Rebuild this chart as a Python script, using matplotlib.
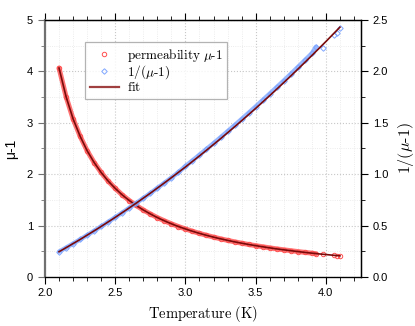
import matplotlib
matplotlib.use("Agg")
import matplotlib.pyplot as plt
from matplotlib.lines import Line2D
from matplotlib.ticker import MultipleLocator

plt.rcParams['mathtext.fontset'] = 'cm'
plt.rcParams['font.family'] = ['Liberation Sans', 'DejaVu Sans']

temp = [2.10, 2.15, 2.20, 2.25, 2.30, 2.35, 2.40, 2.45, 2.50, 2.55,
        2.60, 2.65, 2.70, 2.75, 2.80, 2.85, 2.90, 2.95, 3.00, 3.05,
        3.10, 3.15, 3.20, 3.25, 3.30, 3.35, 3.40, 3.45, 3.50, 3.55,
        3.60, 3.65, 3.70, 3.75, 3.80, 3.85, 3.90, 3.93, 3.98, 4.06,
        4.08, 4.10]
mu_minus_1 = [4.065, 3.509, 3.077, 2.740, 2.457, 2.227, 2.033, 1.866, 1.724, 1.597,
              1.488, 1.391, 1.304, 1.227, 1.156, 1.093, 1.035, 0.982, 0.935, 0.890,
              0.849, 0.811, 0.776, 0.743, 0.713, 0.684, 0.658, 0.633, 0.610, 0.588,
              0.567, 0.547, 0.529, 0.512, 0.495, 0.479, 0.464, 0.452, 0.446, 0.420,
              0.418, 0.412]
inv_mu = [0.246, 0.285, 0.325, 0.365, 0.407, 0.449, 0.492, 0.536, 0.580, 0.626,
          0.672, 0.719, 0.767, 0.815, 0.865, 0.915, 0.966, 1.018, 1.078, 1.133,
          1.188, 1.244, 1.301, 1.358, 1.417, 1.476, 1.536, 1.597, 1.658, 1.720,
          1.783, 1.846, 1.910, 1.975, 2.041, 2.108, 2.175, 2.240, 2.230, 2.350,
          2.370, 2.420]

# fit curves
fit_temp = [2.10, 2.15, 2.20, 2.25, 2.30, 2.35, 2.40, 2.45, 2.50, 2.55,
            2.60, 2.65, 2.70, 2.75, 2.80, 2.85, 2.90, 2.95, 3.00, 3.05,
            3.10, 3.15, 3.20, 3.25, 3.30, 3.35, 3.40, 3.45, 3.50, 3.55,
            3.60, 3.65, 3.70, 3.75, 3.80, 3.85, 3.90, 3.95, 4.00, 4.05,
            4.10]
fit_mu = [4.065, 3.509, 3.077, 2.740, 2.457, 2.227, 2.033, 1.866, 1.724, 1.597,
          1.488, 1.391, 1.304, 1.227, 1.156, 1.093, 1.035, 0.982, 0.935, 0.890,
          0.849, 0.811, 0.776, 0.743, 0.713, 0.684, 0.658, 0.633, 0.610, 0.588,
          0.567, 0.547, 0.529, 0.512, 0.495, 0.479, 0.464, 0.450, 0.437, 0.424,
          0.412]
fit_inv = [0.246, 0.285, 0.325, 0.365, 0.407, 0.449, 0.492, 0.536, 0.580, 0.626,
           0.672, 0.719, 0.767, 0.815, 0.865, 0.915, 0.966, 1.018, 1.070, 1.124,
           1.178, 1.233, 1.289, 1.345, 1.403, 1.461, 1.520, 1.580, 1.640, 1.702,
           1.764, 1.827, 1.891, 1.955, 2.021, 2.087, 2.154, 2.222, 2.290, 2.360,
           2.430]

red = '#ff5050'
blue = '#7fa6ff'
fitc = '#7a0a0a'

fig = plt.figure(figsize=(4.15, 3.26), dpi=100)
ax = fig.add_axes([0.1084, 0.1503, 0.7614, 0.7884])
ax2 = ax.twinx()

# data bands (dense markers) on the two axes
ax.plot(temp[:38], mu_minus_1[:38], color=red, lw=3.6, alpha=0.8, solid_capstyle='round')
ax.plot(temp, mu_minus_1, ls='none', marker='o', ms=3.2, mfc='none', mec=red, mew=0.7)
ax2.plot(temp[:38], inv_mu[:38], color=blue, lw=3.2, alpha=0.8, solid_capstyle='round')
ax2.plot(temp, inv_mu, ls='none', marker='D', ms=2.8, mfc='none', mec=blue, mew=0.7)

ax.plot(fit_temp, fit_mu, color=fitc, lw=1.2, zorder=5)
ax2.plot(fit_temp, fit_inv, color=fitc, lw=1.2, zorder=5)

ax.set_xlim(2.0, 4.25)
ax.set_ylim(0, 5)
ax2.set_ylim(0, 2.5)

ax.xaxis.set_major_locator(MultipleLocator(0.5))
ax.xaxis.set_minor_locator(MultipleLocator(0.1))
ax.yaxis.set_major_locator(MultipleLocator(1))
ax.yaxis.set_minor_locator(MultipleLocator(0.5))
ax2.yaxis.set_major_locator(MultipleLocator(0.5))
ax2.yaxis.set_minor_locator(MultipleLocator(0.25))
ax.set_xticks([2.0, 2.5, 3.0, 3.5, 4.0])
ax.set_xticklabels(['2.0', '2.5', '3.0', '3.5', '4.0'])
ax2.set_yticks([0, 0.5, 1.0, 1.5, 2.0, 2.5])
ax2.set_yticklabels(['0.0', '0.5', '1.0', '1.5', '2.0', '2.5'])

ax.grid(True, which='major', color='#c8c8c8', ls=':', lw=0.8)
ax.grid(True, which='minor', color='#e6e6e6', ls=':', lw=0.6)
ax.set_axisbelow(True)

ax.tick_params(axis='x', which='both', direction='out', top=True, labelsize=8, pad=3)
ax.tick_params(axis='x', which='major', length=5)
ax.tick_params(axis='x', which='minor', length=3)
ax.tick_params(axis='y', which='major', direction='out', length=5, labelsize=8, color='#707070')
ax.tick_params(axis='y', which='minor', direction='out', length=3, color='#707070')
ax2.tick_params(axis='y', which='major', direction='out', length=5, labelsize=8)
ax2.tick_params(axis='y', which='minor', direction='out', length=3)

ax.spines['left'].set_color('#707070')
ax.spines['left'].set_linewidth(1.6)
ax2.spines['left'].set_visible(False)
for s in ['bottom', 'top']:
    ax.spines[s].set_linewidth(0.9)
ax2.spines['right'].set_linewidth(1.0)
ax2.spines['top'].set_linewidth(0.9)

ax.set_xlabel(r'$\mathrm{Temperature\ (K)}$', fontsize=10.5, labelpad=4)
ax.set_ylabel('μ-1', fontsize=10, labelpad=6)
ax2.set_ylabel(r'$\mathrm{1/(\mu\text{-}1)}$', fontsize=11.5, labelpad=6)

handles = [
    Line2D([], [], ls='none', marker='o', ms=3.2, mfc='none', mec=red, mew=0.7),
    Line2D([], [], ls='none', marker='D', ms=2.8, mfc='none', mec=blue, mew=0.7),
    Line2D([], [], color='#a04040', lw=1.6),
]
labels = [r'$\mathrm{permeability}\ \mu\mathrm{\text{-}1}$', r'$\mathrm{1/(\mu\text{-}1)}$', r'$\mathrm{fit}$']
leg = ax2.legend(handles, labels, loc='upper left', bbox_to_anchor=(0.127, 0.914),
                 borderaxespad=0, fontsize=9.5, frameon=True, fancybox=False,
                 handlelength=2.2, labelspacing=0.0, borderpad=0.35, handletextpad=0.6)
leg.get_frame().set_edgecolor('#a0a0a0')
leg.get_frame().set_linewidth(0.9)

fig.savefig('out.png', dpi=100)
